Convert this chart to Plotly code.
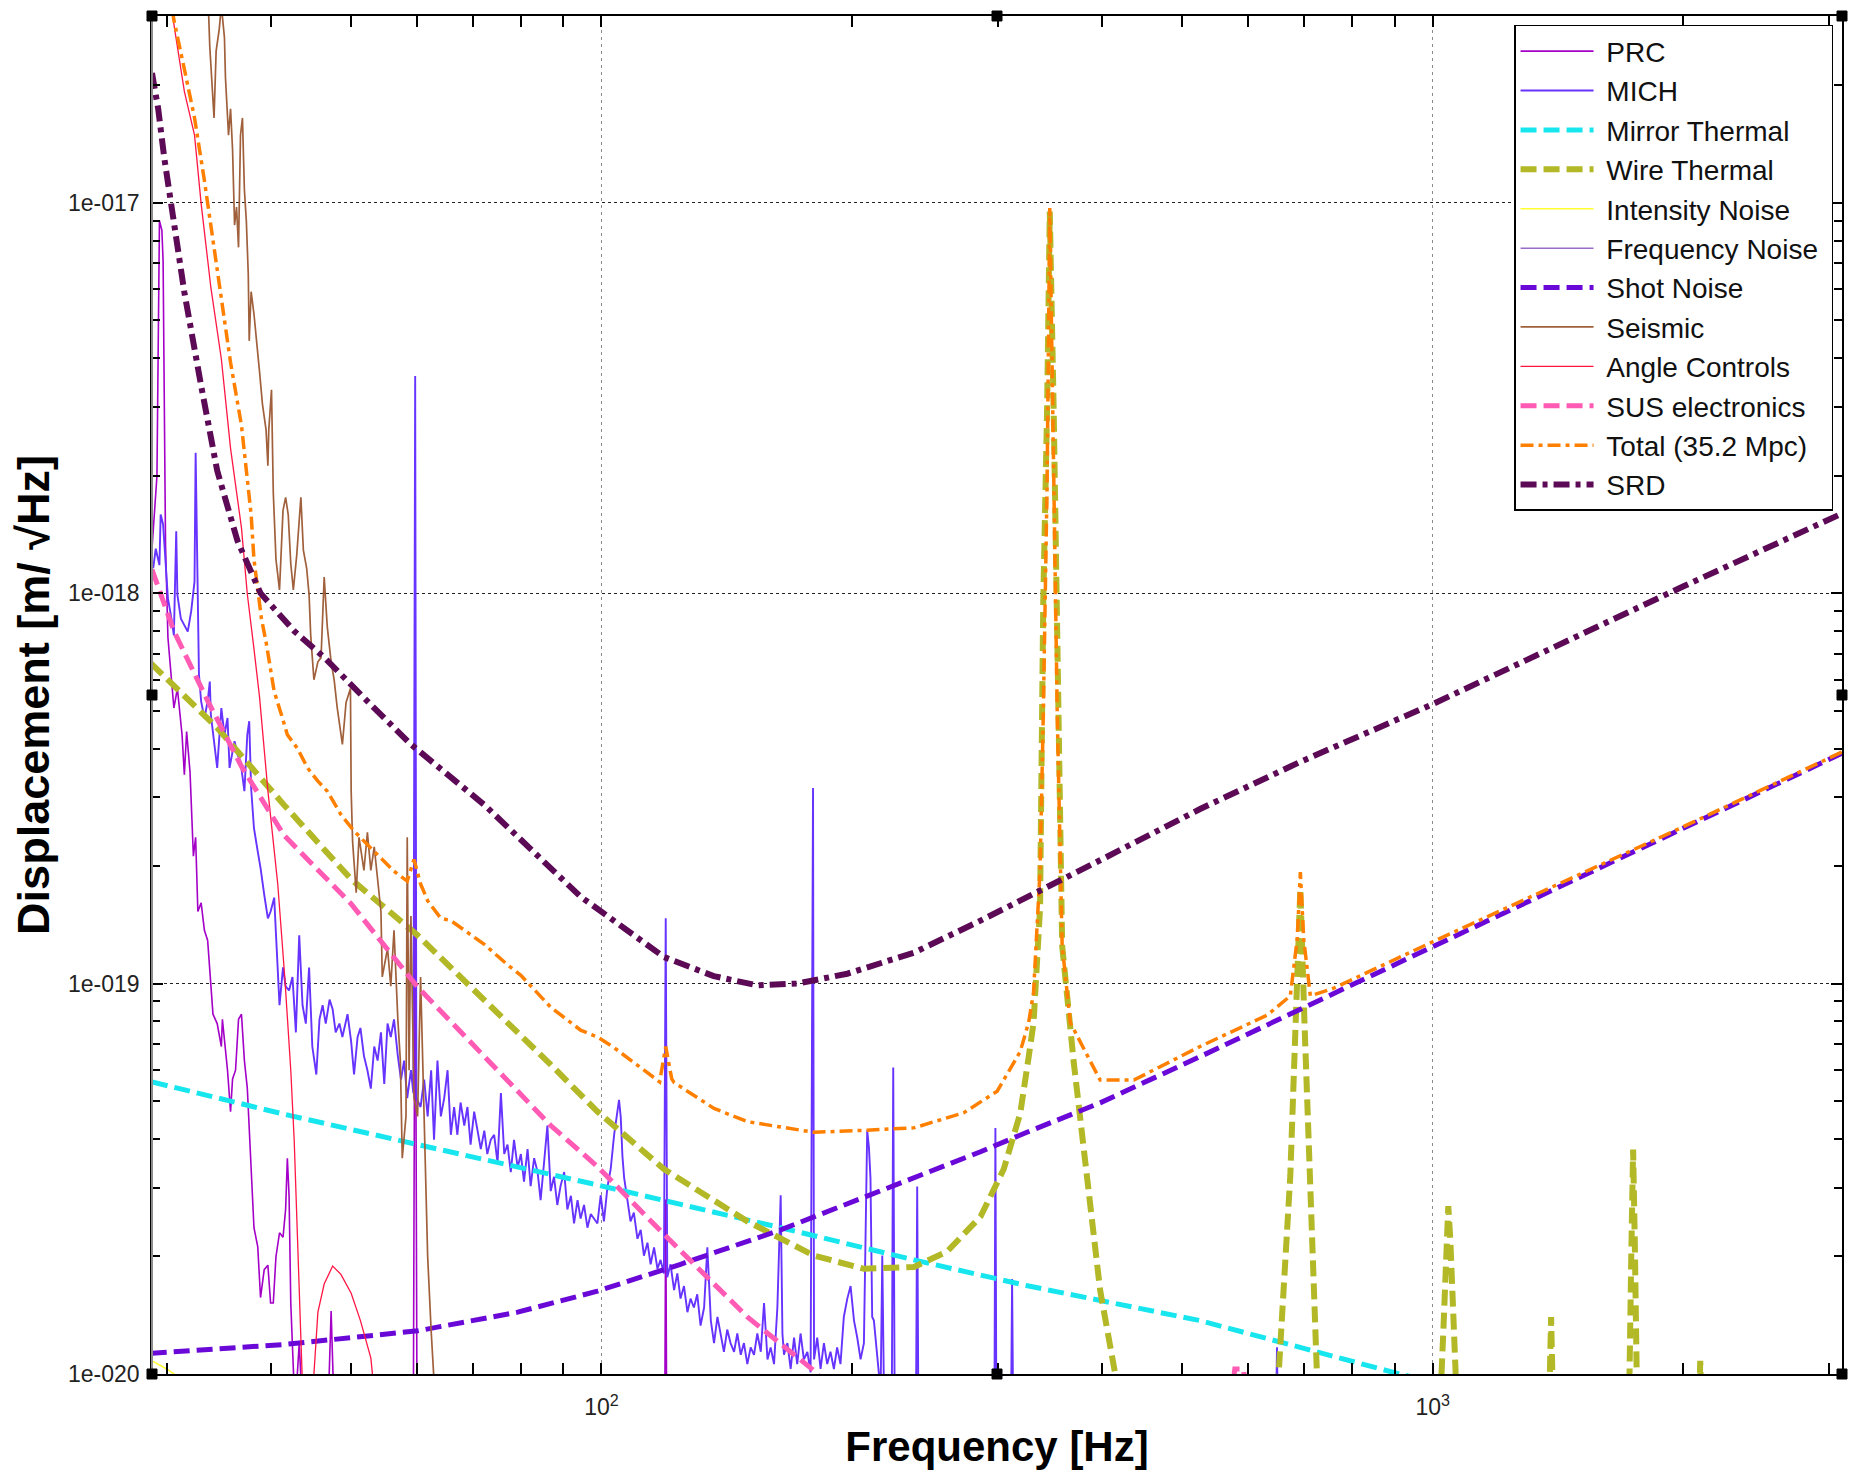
import plotly.graph_objects as go

# ---------------- data (frequency in Hz, displacement in m/rtHz) ----------------
PRC_f = [28.8, 29.2, 29.4, 29.6, 29.7, 29.8, 29.9, 30.1, 30.6, 30.9, 31.3, 31.5, 31.7, 32.0, 32.3, 32.5,
         32.7, 33.0, 33.3, 33.6, 33.9, 34.1, 34.5, 34.9, 35.0, 35.5, 35.8, 36.0, 36.3, 36.6, 36.9, 37.2,
         37.5, 37.9, 38.2, 38.6, 38.9, 39.3, 39.7, 40.0, 40.3, 40.6, 41.0, 41.4, 41.7, 41.9, 42.1, 42.3,
         42.6, 42.8, 43.3, 43.7, 46.9, 47.3, 47.7, 59.4, 59.7, 60.0, 119.2, 119.5, 119.8, 130.0]
PRC_d = [1.3e-18, 2.0e-18, 9.0e-18, 8.5e-18, 7.1e-18, 2.5e-18, 1.33e-18, 7.7e-19, 5.08e-19, 5.7e-19,
         4.34e-19, 3.43e-19, 4.42e-19, 3.48e-19, 2.12e-19, 2.37e-19, 1.53e-19, 1.61e-19, 1.37e-19,
         1.29e-19, 9.84e-20, 8.35e-20, 7.9e-20, 6.9e-20, 8.1e-20, 6.0e-20, 4.7e-20, 5.7e-20, 6.0e-20,
         8.1e-20, 8.35e-20, 6.35e-20, 5.4e-20, 3.47e-20, 2.37e-20, 2.12e-20, 1.57e-20, 1.85e-20, 1.9e-20,
         1.52e-20, 1.52e-20, 2.0e-20, 2.3e-20, 2.24e-20, 2.64e-20, 3.57e-20, 2.86e-20, 1.52e-20, 1.07e-20,
         8e-21, 1.2e-20, 8e-21, 8e-21, 1.45e-20, 8e-21, 8e-21, 2.2e-19, 8e-21, 8e-21, 2.8e-20, 8e-21, 8e-21]

MICH_f = [28.9, 29.1, 29.4, 29.5, 29.7, 29.9, 30.1, 30.4, 30.6, 30.8, 30.9, 31.2, 31.5, 31.8, 32.1, 32.4,
          32.5, 32.7, 32.8, 33.0, 33.3, 33.6, 33.8, 33.9, 34.2, 34.5, 34.9, 35.2, 35.5, 35.7, 36.2, 36.5,
          36.8, 37.2, 37.5, 37.7, 37.9, 38.2, 38.6, 38.9, 39.3, 39.7, 40.0, 40.4, 40.6, 40.8, 41.0, 41.4,
          41.7, 42.1, 42.5, 42.9, 43.3, 43.7, 44.1, 44.5, 44.9, 45.4, 45.8, 46.2, 46.6, 47.1, 47.5, 47.9,
          48.4, 48.8, 49.5, 50.0, 50.4, 50.9, 51.3, 51.8, 52.3, 52.8, 53.3, 53.8, 54.3, 54.8, 55.3, 55.8,
          56.3, 56.9, 57.4, 57.9, 58.4, 59.0, 59.4, 59.7, 59.9, 60.6, 61.2, 61.8, 62.4, 62.9, 63.5, 64.1,
          64.7, 65.3, 65.9, 66.5, 67.1, 67.7, 68.4, 69.0, 69.6, 70.3, 70.9, 71.6, 72.3, 72.9, 73.6, 74.3,
          75.0, 75.7, 76.4, 77.1, 77.8, 78.5, 79.3, 80.0, 80.7, 81.5, 82.2, 83.0, 83.8, 84.5, 85.3, 86.1,
          86.9, 87.7, 88.5, 89.3, 90.2, 91.0, 91.9, 92.7, 93.6, 94.4, 95.3, 96.2, 97.1, 98.9, 99.8, 100.7,
          101.7, 102.6, 103.6, 104.5, 105.0, 105.5, 106.0, 106.5, 107.5, 108.4, 109.4, 110.5, 111.5, 112.5,
          113.6, 114.6, 115.7, 116.8, 117.8, 118.9, 119.5, 120.0, 121.1, 122.3, 123.4, 124.5, 125.7, 126.9,
          128.0, 129.2, 130.4, 131.6, 132.9, 134.1, 135.4, 136.6, 137.9, 139.1, 140.4, 141.7, 143.0, 144.4,
          145.7, 147.1, 148.4, 149.8, 151.2, 152.6, 154.0, 155.5, 156.9, 158.4, 159.8, 161.3, 162.8, 164.3,
          165.1, 165.8, 167.4, 168.9, 170.5, 172.0, 173.6, 175.2, 176.9, 178.5, 179.7, 180.2, 181.8, 183.5,
          185.2, 186.9, 188.6, 190.4, 192.1, 193.9, 195.7, 197.6, 199.4, 201.3, 203.1, 205.0, 206.9, 208.8,
          209.8, 210.7, 211.7, 212.7, 214.7, 216.7, 217.7, 218.7, 223.5, 224.4, 225.3, 239.0, 239.8, 240.6,
          297.0, 297.8, 298.6, 311.0, 311.9, 312.8, 648.0, 649.6, 651.0, 700.0]
MICH_d = [1.16e-18, 1.3e-18, 1.18e-18, 1.59e-18, 1.5e-18, 1.16e-18, 9.7e-19, 8.6e-19, 7.8e-19, 1.44e-18,
          9.9e-19, 8.6e-19, 8.3e-19, 7.97e-19, 8.98e-19, 1.07e-18, 2.29e-18, 8.1e-19, 6.2e-19, 5.28e-19,
          4.79e-19, 5.28e-19, 5.94e-19, 4.88e-19, 4.18e-19, 3.57e-19, 5.08e-19, 4.34e-19, 4.79e-19, 3.57e-19,
          4.18e-19, 3.86e-19, 3.71e-19, 3.11e-19, 4.34e-19, 4.7e-19, 3.17e-19, 2.5e-19, 2.18e-19, 1.98e-19,
          1.69e-19, 1.47e-19, 1.53e-19, 1.66e-19, 1.34e-19, 1.04e-19, 8.8e-20, 1.1e-19, 9.84e-20, 9.6e-20,
          1.04e-19, 7.5e-20, 1.33e-19, 8.8e-20, 7.9e-20, 1.1e-19, 6.9e-20, 5.85e-20, 8.1e-20, 8.8e-20,
          7.9e-20, 9.1e-20, 8.6e-20, 7.5e-20, 7.9e-20, 7.3e-20, 8.35e-20, 7.1e-20, 5.85e-20, 7.3e-20,
          7.7e-20, 6.53e-20, 6.0e-20, 5.38e-20, 6.9e-20, 6.35e-20, 7.5e-20, 5.53e-20, 7.9e-20, 7.3e-20,
          8.1e-20, 6.53e-20, 5.68e-20, 6.35e-20, 5.09e-20, 6.0e-20, 5.24e-20, 3.6e-18, 5.09e-20, 4.83e-20,
          5.68e-20, 4.57e-20, 6.0e-20, 3.98e-20, 6.35e-20, 4.57e-20, 5.09e-20, 6.0e-20, 4.1e-20, 4.83e-20,
          4.1e-20, 4.96e-20, 4.33e-20, 4.83e-20, 3.87e-20, 4.7e-20, 4.2e-20, 3.77e-20, 4.2e-20, 3.66e-20,
          3.98e-20, 4.1e-20, 3.47e-20, 5.24e-20, 3.66e-20, 3.87e-20, 3.29e-20, 3.98e-20, 3.38e-20, 3.66e-20,
          3.11e-20, 3.77e-20, 3.03e-20, 3.57e-20, 3.29e-20, 2.79e-20, 3.47e-20, 4.33e-20, 2.94e-20, 3.2e-20,
          2.71e-20, 3.03e-20, 3.29e-20, 2.64e-20, 2.86e-20, 2.43e-20, 2.79e-20, 2.5e-20, 2.71e-20, 2.37e-20,
          2.57e-20, 2.43e-20, 2.87e-20, 2.46e-20, 3.02e-20, 3.35e-20, 4.11e-20, 4.67e-20, 5.04e-20, 4.55e-20,
          3.61e-20, 3.18e-20, 2.73e-20, 2.46e-20, 2.59e-20, 2.22e-20, 2.34e-20, 2.01e-20, 2.17e-20, 1.91e-20,
          2.11e-20, 1.86e-20, 1.96e-20, 1.81e-20, 1.47e-19, 1.77e-20, 1.91e-20, 1.64e-20, 1.81e-20, 1.56e-20,
          1.68e-20, 1.44e-20, 1.56e-20, 1.48e-20, 1.6e-20, 1.33e-20, 1.48e-20, 2.11e-20, 1.37e-20, 1.2e-20,
          1.4e-20, 1.27e-20, 1.14e-20, 1.3e-20, 1.2e-20, 1.14e-20, 1.27e-20, 1.12e-20, 1.2e-20, 1.06e-20,
          1.17e-20, 1.12e-20, 1.27e-20, 1.14e-20, 1.52e-20, 1.09e-20, 1.17e-20, 1.06e-20, 1.48e-20, 2.87e-20,
          1.27e-20, 1.12e-20, 1.2e-20, 1.03e-20, 1.24e-20, 1.06e-20, 1.27e-20, 1.09e-20, 1.14e-20, 1.01e-20,
          3.17e-19, 1.09e-20, 1.24e-20, 1.03e-20, 1.2e-20, 1.06e-20, 1.14e-20, 1.03e-20, 1.17e-20, 1.06e-20,
          1.4e-20, 1.56e-20, 1.68e-20, 1.37e-20, 1.24e-20, 1.09e-20, 1.2e-20, 4.21e-20, 3.8e-20, 3.18e-20,
          1.4e-20, 1.37e-20, 1.09e-20, 9e-21, 2.01e-20, 9e-21, 8e-21, 6.1e-20, 8e-21, 8e-21, 3.02e-20, 8e-21,
          8e-21, 4.27e-20, 8e-21, 8e-21, 1.75e-20, 8e-21, 8e-21, 1.17e-20, 8e-21, 8e-21]

MIRROR_f = [28.8, 41.5, 60.1, 98.9, 164.3, 237.6, 326.6, 525.0, 912.0, 1100.0]
MIRROR_d = [5.6e-20, 4.63e-20, 3.87e-20, 3.05e-20, 2.37e-20, 1.96e-20, 1.68e-20, 1.37e-20, 1.0e-20, 9.1e-21]

WIRE_f = [28.7, 34.5, 41.5, 50.0, 60.1, 72.3, 86.9, 98.9, 118.9, 149.8, 180.2, 206.9, 237.6, 260.6,
          285.8, 304.8, 319.0, 326.6, 331.0, 337.0, 340.0, 343.6, 346.2, 350.0, 353.5, 358.3, 369.8,
          383.7, 398.0, 415.0, 480.0, 600.0, 652.6, 674.0, 683.0, 693.0, 701.0, 712.5, 725.6, 800.0,
          1020.0, 1030.0, 1040.0, 1044.0, 1050.0, 1058.0, 1070.0, 1380.0, 1388.0, 1396.0, 1722.0,
          1733.0, 1742.0, 1750.0, 1762.0, 2090.0, 2098.0, 2106.0, 3107.0]
WIRE_d = [6.62e-19, 4.52e-19, 2.87e-19, 1.85e-19, 1.33e-19, 9.1e-20, 6.2e-20, 4.7e-20, 3.35e-20, 2.46e-20,
          2.01e-20, 1.86e-20, 1.88e-20, 2.06e-20, 2.53e-20, 3.35e-20, 4.65e-20, 6.5e-20, 7.94e-20, 1.56e-19,
          9.46e-19, 2.92e-18, 9.5e-18, 2.92e-18, 7.57e-19, 1.25e-19, 6.34e-20, 3.22e-20, 1.64e-20, 1.0e-20,
          6e-21, 6e-21, 1.0e-20, 3.22e-20, 7.94e-20, 1.75e-19, 7.94e-20, 3.22e-20, 1.0e-20, 6e-21,
          8e-21, 1.3e-20, 2.3e-20, 2.69e-20, 2.2e-20, 1.3e-20, 8e-21, 8e-21, 1.4e-20, 8e-21, 8e-21,
          2.0e-20, 3.76e-20, 2.2e-20, 8e-21, 8e-21, 1.08e-20, 8e-21, 8e-21]

INTENS_f = [28.8, 30.0, 31.7, 35.0]
INTENS_d = [1.08e-20, 1.03e-20, 9.5e-21, 8e-21]

FREQN_f = [28.8, 3107.0]
FREQN_d = [4e-21, 4e-21]

SHOT_f = [28.7, 41.5, 60.1, 79.3, 98.9, 124.5, 164.3, 216.7, 285.8, 325.0, 398.0, 525.0, 693.0,
          1000.0, 2000.0, 3107.0]
SHOT_d = [1.13e-20, 1.19e-20, 1.29e-20, 1.44e-20, 1.63e-20, 1.91e-20, 2.34e-20, 2.94e-20, 3.71e-20,
          4.16e-20, 4.95e-20, 6.5e-20, 8.6e-20, 1.25e-19, 2.5e-19, 3.89e-19]

SEIS_f = [33.0, 33.7, 33.8, 34.1, 34.2, 34.4, 34.7, 34.9, 35.2, 35.3, 35.6, 35.8, 36.0, 36.2, 36.4, 36.6,
          36.8, 37.0, 37.2, 37.4, 37.6, 37.7, 37.9, 38.2, 38.5, 38.8, 39.1, 39.5, 39.7, 39.8, 40.1, 40.3,
          40.6, 41.0, 41.4, 41.7, 42.0, 42.3, 42.6, 43.0, 43.5, 43.8, 44.2, 44.5, 44.7, 45.1, 45.6, 46.0,
          46.4, 46.8, 47.3, 47.7, 48.1, 48.8, 49.3, 49.9, 50.0, 50.2, 50.7, 51.1, 51.8, 52.3, 52.8, 53.3,
          54.3, 54.5, 55.3, 55.8, 56.3, 56.9, 57.3, 57.6, 58.2, 58.4, 58.7, 59.0, 59.5, 60.1, 60.6, 61.2,
          61.8, 62.4, 62.9, 63.5]
SEIS_d = [5e-17, 3.0e-17, 2.51e-17, 1.88e-17, 1.65e-17, 2.45e-17, 2.79e-17, 3.2e-17, 2.65e-17, 2.09e-17,
          1.49e-17, 1.74e-17, 1.37e-17, 8.77e-18, 9.75e-18, 7.69e-18, 1.49e-17, 1.65e-17, 1.08e-17, 9.0e-18,
          6.57e-18, 4.43e-18, 5.92e-18, 5.19e-18, 4.43e-18, 3.68e-18, 3.06e-18, 2.62e-18, 2.12e-18, 2.62e-18,
          3.32e-18, 1.81e-18, 1.22e-18, 1.02e-18, 1.63e-18, 1.76e-18, 1.59e-18, 1.19e-18, 1.02e-18, 1.25e-18,
          1.76e-18, 1.29e-18, 1.16e-18, 9.9e-19, 7.8e-19, 6.0e-19, 6.67e-19, 6.84e-19, 1.1e-18, 8.2e-19,
          6.67e-19, 6.0e-19, 5.1e-19, 4.1e-19, 5.25e-19, 5.7e-19, 3.12e-19, 2.31e-19, 1.71e-19, 2.37e-19,
          1.95e-19, 2.44e-19, 1.95e-19, 2.24e-19, 1.53e-19, 1.04e-19, 1.23e-19, 9.85e-20, 1.37e-19, 8.1e-20,
          6.35e-20, 3.57e-20, 4.57e-20, 2.37e-19, 6.0e-20, 1.49e-19, 5.1e-20, 4.57e-20, 1.04e-19, 4.57e-20,
          2.0e-20, 1.29e-20, 9.6e-21, 8e-21]

ANGLE_f = [29.5, 30.5, 31.5, 32.4, 33.0, 33.9, 34.9, 35.8, 36.9, 37.5, 38.2, 38.8, 39.7, 40.8, 41.6,
           42.3, 42.7, 43.1, 43.5, 43.8, 44.8, 45.6, 46.4, 47.5, 48.6, 50.0, 51.3, 52.8, 53.6]
ANGLE_d = [5e-17, 3.0e-17, 1.93e-17, 1.49e-17, 9.95e-18, 6.07e-18, 3.98e-18, 2.35e-18, 1.47e-18, 9.95e-19,
           7.2e-19, 5.4e-19, 3.12e-19, 1.8e-19, 1.04e-19, 6.0e-20, 3.98e-20, 2.3e-20, 1.33e-20, 8e-21,
           8e-21, 1.44e-20, 1.7e-20, 1.89e-20, 1.8e-20, 1.61e-20, 1.37e-20, 1.1e-20, 8e-21]

SUS_f = [28.8, 30.6, 33.6, 36.9, 41.5, 50.0, 60.1, 72.3, 86.9, 98.9, 118.9, 149.8, 180.2, 200.0,
         560.0, 578.0, 592.0, 610.0]
SUS_d = [1.15e-18, 8.0e-19, 5.3e-19, 3.6e-19, 2.4e-19, 1.6e-19, 9.8e-20, 6.53e-20, 4.33e-20, 3.4e-20,
         2.28e-20, 1.4e-20, 1.02e-20, 8e-21, 6e-21, 1.03e-20, 1.03e-20, 6e-21]

TOTAL_f = [29.5, 30.6, 31.5, 32.4, 33.3, 34.5, 35.8, 36.9, 37.5, 37.9, 38.2, 38.6, 39.0, 39.5, 40.0,
           40.4, 41.2, 41.9, 43.1, 44.3, 45.6, 46.8, 48.6, 50.4, 52.3, 54.3, 56.3, 58.4, 59.5, 60.6,
           61.8, 64.1, 65.9, 72.3, 77.0, 80.0, 86.9, 94.4, 98.9, 103.6, 115.7, 117.5, 119.5, 121.5,
           122.3, 136.6, 149.8, 180.2, 206.9, 237.6, 272.9, 299.3, 319.0, 326.6, 331.0, 337.0, 340.0,
           343.6, 346.2, 350.0, 353.5, 358.3, 366.5, 398.0, 436.9, 525.0, 632.0, 674.0, 687.0, 693.0,
           699.5, 712.5, 760.0, 1000.0, 2000.0, 3107.0]
TOTAL_d = [5e-17, 2.94e-17, 2.2e-17, 1.65e-17, 1.14e-17, 6.74e-18, 3.9e-18, 2.69e-18, 1.91e-18, 1.59e-18,
           1.22e-18, 1.01e-18, 8.6e-19, 7.5e-19, 6.4e-19, 5.6e-19, 4.9e-19, 4.34e-19, 4.0e-19, 3.57e-19,
           3.3e-19, 3.11e-19, 2.71e-19, 2.46e-19, 2.27e-19, 2.1e-19, 1.94e-19, 1.83e-19, 2.08e-19, 1.8e-19,
           1.63e-19, 1.47e-19, 1.45e-19, 1.26e-19, 1.12e-19, 1.05e-19, 8.7e-20, 7.6e-20, 7.3e-20, 6.85e-20,
           5.73e-20, 5.6e-20, 6.9e-20, 5.7e-20, 5.58e-20, 4.79e-20, 4.43e-20, 4.16e-20, 4.21e-20, 4.27e-20,
           4.67e-20, 5.3e-20, 6.7e-20, 7.97e-20, 9.5e-20, 1.95e-19, 4.82e-19, 1.87e-18, 9.7e-18, 1.87e-18,
           4.82e-19, 1.25e-19, 7.94e-20, 5.66e-20, 5.66e-20, 6.9e-20, 8.3e-20, 9.3e-20, 1.3e-19, 1.93e-19,
           1.3e-19, 9.3e-20, 9.73e-20, 1.28e-19, 2.52e-19, 3.92e-19]

SRD_f = [28.8, 29.3, 29.8, 30.35, 31.5, 33.0, 34.5, 36.5, 38.9, 42.7, 46.4, 51.8, 59.0, 72.3, 94.4,
         118.9, 136.5, 154.0, 172.0, 197.6, 237.6, 285.8, 325.0, 398.0, 525.0, 600.0, 693.0, 1000.0,
         1500.0, 2000.0, 3107.0]
SRD_d = [2.15e-17, 1.74e-17, 1.30e-17, 9.95e-18, 5.9e-18, 3.4e-18, 2.06e-18, 1.36e-18, 1.0e-18, 8.0e-19,
         6.85e-19, 5.4e-19, 4.1e-19, 2.87e-19, 1.67e-19, 1.17e-19, 1.045e-19, 9.9e-20, 1.0e-19, 1.06e-19,
         1.2e-19, 1.45e-19, 1.66e-19, 2.07e-19, 2.8e-19, 3.2e-19, 3.7e-19, 5.2e-19, 7.8e-19, 1.04e-18,
         1.6e-18]

X_MAJOR = [100, 1000]
X_MAJOR_TEXT = ["10<sup>2</sup>", "10<sup>3</sup>"]
X_MINOR = [30, 40, 50, 60, 70, 80, 90, 200, 300, 400, 500, 600, 700, 800, 900, 2000, 3000]
Y_MAJOR = [1e-20, 1e-19, 1e-18, 1e-17]
Y_MAJOR_TEXT = ["1e-020", "1e-019", "1e-018", "1e-017"]
Y_MINOR = [m * d for d in (1e-20, 1e-19, 1e-18, 1e-17) for m in range(2, 10)]

# ---------------- figure ----------------
fig = go.Figure()

def add(name, f, d, color, width, dash="solid"):
    fig.add_trace(go.Scatter(x=f, y=d, mode="lines", name="\u00a0" + name + "\u00a0",
                             line=dict(color=color, width=width, dash=dash)))

add("PRC", PRC_f, PRC_d, "#a400c8", 1.6)
add("MICH", MICH_f, MICH_d, "#6633ff", 1.9)
add("Mirror Thermal", MIRROR_f, MIRROR_d, "#18e6ee", 5, "16px,7px")
add("Wire Thermal", WIRE_f, WIRE_d, "#b3b826", 6, "16px,7px")
add("Intensity Noise", INTENS_f, INTENS_d, "#ffff33", 1.5)
add("Frequency Noise", FREQN_f, FREQN_d, "#9a6cc8", 1.5)
add("Shot Noise", SHOT_f, SHOT_d, "#6a08d8", 5, "16px,7px")
add("Seismic", SEIS_f, SEIS_d, "#a0603c", 1.7)
add("Angle Controls", ANGLE_f, ANGLE_d, "#ff1744", 1.3)
add("SUS electronics", SUS_f, SUS_d, "#ff5ab4", 5, "16px,7px")
add("Total (35.2 Mpc)", TOTAL_f, TOTAL_d, "#ff8000", 3.5, "13px,5px,4px,5px")
add("SRD", SRD_f, SRD_d, "#5c0a56", 6, "16px,6px,5px,6px")

FONT = "Liberation Sans, Arial, sans-serif"

# the page adds an 8 px body margin, so the figure is 8 px smaller on each axis
fig.update_layout(
    width=1850, height=1471,
    margin=dict(l=144, r=16, t=6, b=105),
    paper_bgcolor="white", plot_bgcolor="white",
    font=dict(family=FONT, color="#111111"),
    legend=dict(x=0.9947, y=0.9934, xanchor="right", yanchor="top",
                bgcolor="white", bordercolor="black", borderwidth=1.5,
                font=dict(size=28, family=FONT, color="#111111"),
                itemwidth=73, tracegroupgap=0),
)

fig.update_xaxes(
    type="log", range=[1.4594, 3.4923],
    showline=True, linecolor="black", linewidth=1.5, mirror="ticks",
    ticks="inside", ticklen=11, tickcolor="black", tickwidth=1.5,
    tickvals=X_MAJOR, ticktext=X_MAJOR_TEXT, tickfont=dict(size=23, color="#222222"),
    ticklabelstandoff=12,
    showgrid=True, gridcolor="#8a8a8a", gridwidth=1, griddash="3px,4px",
    minor=dict(tickvals=X_MINOR, ticks="inside", ticklen=11, tickcolor="black", tickwidth=1.5, showgrid=False),
    zeroline=False,
    title=dict(text="<b>Frequency [Hz]</b>", font=dict(size=42, family=FONT, color="black"), standoff=12),
)
fig.update_yaxes(
    type="log", range=[-20, -16.5215],
    showline=True, linecolor="black", linewidth=1.5, mirror="ticks",
    ticks="inside", ticklen=11, tickcolor="black", tickwidth=1.5,
    tickvals=Y_MAJOR, ticktext=Y_MAJOR_TEXT, tickfont=dict(size=23, color="#222222"),
    ticklabelstandoff=6,
    showgrid=True, gridcolor="#222222", gridwidth=1, griddash="3px,3px",
    minor=dict(tickvals=Y_MINOR, ticks="inside", ticklen=8, tickcolor="black", tickwidth=1.5, showgrid=False),
    zeroline=False,
    title=dict(text="<b>Displacement [m/ \u221aHz]</b>", font=dict(size=45, family=FONT, color="black"), standoff=10),
)

# grey left edge of the axes box
fig.add_shape(type="line", xref="paper", yref="paper", x0=0, x1=0, y0=0, y1=1,
              line=dict(color="#8c8c8c", width=2), layer="above")

# editor selection handles on the axes box
for hx in (0.0, 0.5, 1.0):
    for hy in (0.0, 0.5, 1.0):
        if hx == 0.5 and hy == 0.5:
            continue
        fig.add_shape(type="rect", xref="paper", yref="paper",
                      xsizemode="pixel", ysizemode="pixel", xanchor=hx, yanchor=hy,
                      x0=-5, x1=5, y0=-5, y1=5,
                      fillcolor="black", line=dict(color="black", width=1), layer="above")

fig.write_html("out.html")
